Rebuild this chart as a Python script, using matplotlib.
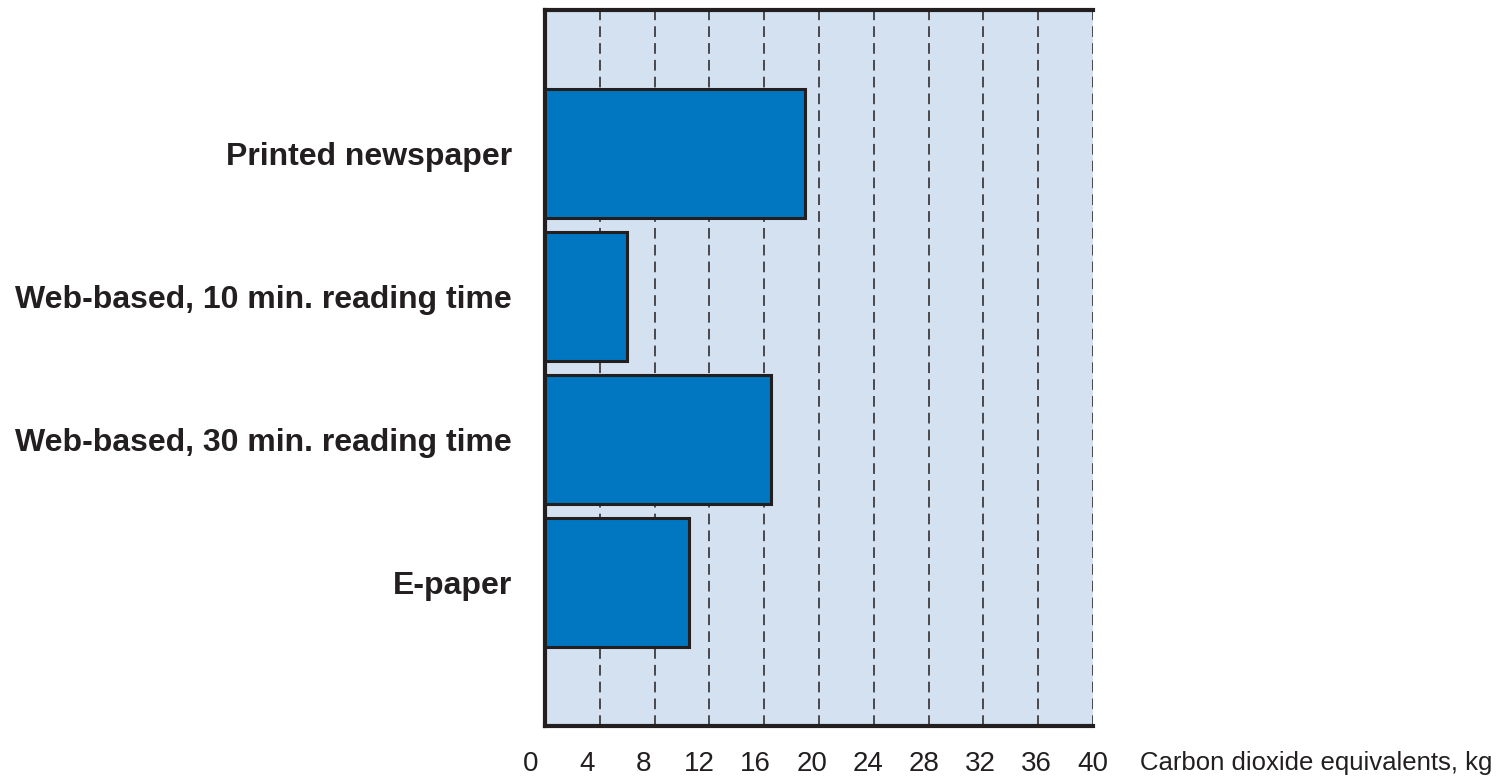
import matplotlib
matplotlib.use("Agg")
import matplotlib.pyplot as plt
import matplotlib.transforms as mtransforms
from matplotlib import font_manager

categories = ["Printed newspaper", "Web-based, 10 min. reading time",
              "Web-based, 30 min. reading time", "E-paper"]
co2_kg = [19.0, 6.0, 16.5, 10.5]
xticks = [0, 4, 8, 12, 16, 20, 24, 28, 32, 36, 40]
xlabel = "Carbon dioxide equivalents, kg"

names = {f.name for f in font_manager.fontManager.ttflist}
narrow = "Liberation Sans Narrow" if "Liberation Sans Narrow" in names else "Liberation Sans"
plt.rcParams['font.family'] = [narrow, 'DejaVu Sans']

fig = plt.figure(figsize=(15.01, 7.79), dpi=100)
ax = fig.add_axes([545 / 1501, 53 / 779, 548 / 1501, 716 / 779])
ax.set_facecolor("#d4e1f1")

ypos = list(range(len(categories)))
ax.barh(ypos, co2_kg, height=0.9, color="#0077c0", edgecolor="#231f20",
        linewidth=2.2, zorder=3)

ax.set_xlim(0, 40)
ax.set_ylim(4, -1)
ax.set_xticks(xticks)
ax.set_xticklabels([str(t) for t in xticks], fontsize=20, color="#231f20")
ax.tick_params(axis="x", length=0, pad=18)
ax.set_yticks(ypos)
ax.set_yticklabels(categories, fontsize=23, fontweight="bold", color="#231f20")
ax.tick_params(axis="y", length=0, pad=24)

# labels sit a bit left of the gridlines, more so at the low end
for t, lab in zip(xticks, ax.get_xticklabels()):
    dx = -14 * (40 - t) / 40 / 100
    lab.set_transform(lab.get_transform() + mtransforms.ScaledTranslation(dx, 0, fig.dpi_scale_trans))

for x in xticks[1:]:
    ax.axvline(x, color="#231f20", linestyle=(0, (7, 4)), linewidth=1.1, zorder=2)

for side in ["left", "bottom", "top"]:
    ax.spines[side].set_linewidth(3)
    ax.spines[side].set_color("#231f20")
ax.spines["right"].set_visible(False)

fig.text(1140 / 1501, 1 - 770 / 779, xlabel, fontsize=18.5, color="#231f20",
         va="baseline", ha="left")

fig.savefig("out.png", dpi=100)
